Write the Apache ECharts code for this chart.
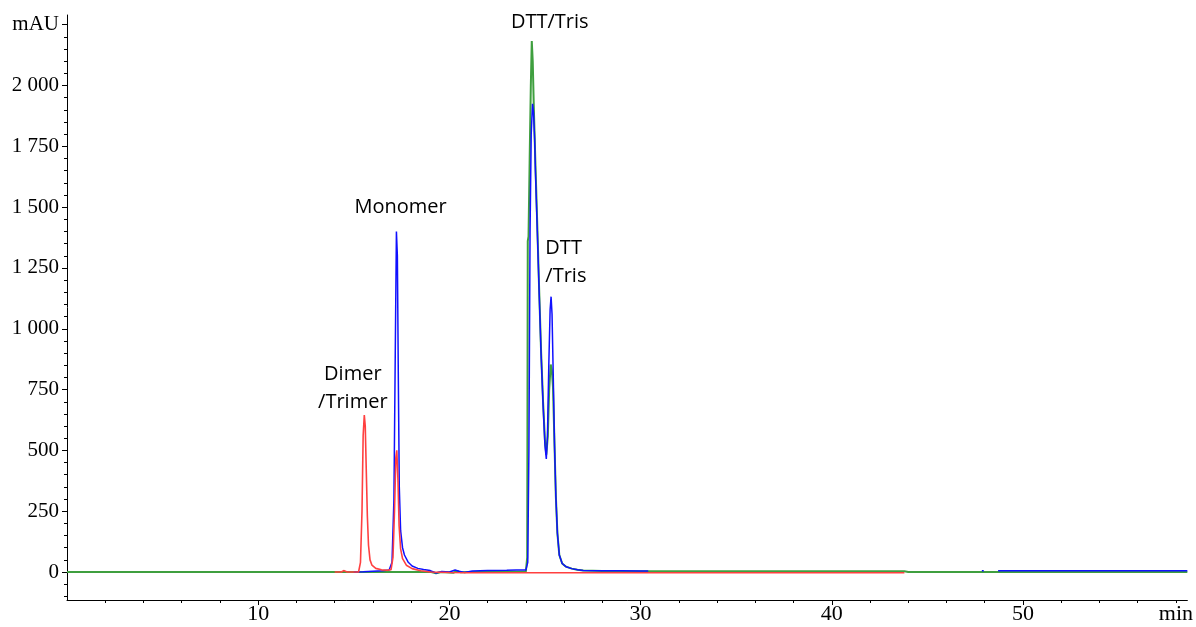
<!DOCTYPE html>
<html>
<head>
<meta charset="utf-8">
<script src="https://cdn.jsdelivr.net/npm/echarts@6/dist/echarts.min.js"></script>
<style>
html,body{margin:0;padding:0;background:#fff;}
#c{width:1196px;height:627px;}
</style>
</head>
<body>
<div id="c"></div>
<script>
// ---- axis ticks ----
const xMajorTicks = [10, 20, 30, 40, 50];
const xLabelTicks = [10, 20, 30, 40, 50, 58];
const xMinorTicks = [2,4,6,8,10,12,14,16,18,20,22,24,26,28,30,32,34,36,38,40,42,44,46,48,50,52,54,56,58];
const yMajorTicks = [0, 250, 500, 750, 1000, 1250, 1500, 1750, 2000, 2250];
const yMinorTicks = [-100,-50,0,50,100,150,200,250,300,350,400,450,500,550,600,650,700,750,800,850,900,950,1000,1050,1100,1150,1200,1250,1300,1350,1400,1450,1500,1550,1600,1650,1700,1750,1800,1850,1900,1950,2000,2050,2100,2150,2200,2250];
const xUnitLabel = 'min';
const yUnitLabel = 'mAU';

// ---- traces [time (min), signal (mAU)] ----
const redTrace = [
  [14.0,0],[14.35,0],[14.47,6],[14.55,2],[14.65,0],[15.25,0],[15.35,40],[15.43,250],[15.49,560],[15.55,645],
  [15.6,600],[15.65,430],[15.71,230],[15.77,110],[15.85,50],[15.95,28],[16.15,15],[16.45,9],[16.75,7],
  [16.95,10],[17.05,60],[17.13,250],[17.2,470],[17.25,500],[17.31,380],[17.37,190],[17.45,95],[17.55,55],
  [17.75,28],[18.05,14],[18.5,5],[19.0,0],[20.0,-2],[21.0,-3],[25.0,-3],[30.0,-3],[35.0,-3],[40.0,-3],[43.8,-3]
];
const blueTrace = [
  [15.0,0],[15.5,1],[16.0,3],[16.5,5],[16.85,8],[17.0,40],[17.1,300],[17.17,900],[17.23,1400],
  [17.28,1300],[17.33,800],[17.38,350],[17.45,170],[17.55,100],[17.65,70],[17.85,40],[18.05,25],[18.35,15],
  [18.65,10],[19.0,6],[19.3,-4],[19.6,2],[20.0,0],[20.3,8],[20.5,3],[20.8,-2],[21.2,4],[22.0,6],[23.0,7],
  [23.5,8],[24.0,8],[24.1,40],[24.16,500],[24.22,1400],[24.28,1800],[24.35,1925],[24.4,1890],[24.46,1780],
  [24.5,1650],[24.6,1400],[24.7,1140],[24.8,890],[24.9,690],[25.0,520],[25.07,465],[25.13,560],[25.2,850],
  [25.27,1080],[25.32,1132],[25.37,1060],[25.43,820],[25.5,520],[25.57,310],[25.65,160],[25.75,70],
  [25.9,35],[26.1,22],[26.4,14],[26.7,9],[27.0,6],[28.0,5],[29.0,5],[30.0,4],[30.4,4],null,
  [47.85,5],[47.95,5],null,[48.7,5],[52.0,5],[55.0,5],[58.6,5]
];
const greenTrace = [
  [0,0],[5,0],[10,0],[14,0],[18,0],[19.0,1],[19.3,-5],[19.6,0],[20.2,-3],[20.4,4],[20.6,-1],[21,0],
  [24.0,2],[24.07,60],[24.1,1360],[24.14,1380],[24.2,1700],[24.26,2000],[24.31,2183],[24.36,2100],
  [24.42,1900],[24.5,1680],[24.6,1420],[24.7,1150],[24.8,900],[24.9,700],[25.0,540],[25.07,482],
  [25.15,560],[25.22,750],[25.3,853],[25.36,830],[25.42,760],[25.5,520],[25.57,310],[25.65,160],
  [25.75,70],[25.9,35],[26.1,22],[26.4,14],[26.7,9],[27.0,6],[28.0,4],[35.0,3],[43.8,3],[44.0,0],
  [50.0,0],[58.6,0]
];

// ---- peak annotations [time, mAU, text] ----
const annotations = [
  [14.95, 757, 'Dimer\n/Trimer'],
  [17.45, 1501, 'Monomer'],
  [25.25, 2261, 'DTT/Tris'],
  [25.02, 1275, 'DTT\n/Tris']
];
// text alignment of each annotation (style, by index)
const annotationAlign = ['center', 'center', 'center', 'left'];

const X_MIN = 0, X_MAX = 58.6, Y_MIN = -115, Y_MAX = 2290;
const serif = '"Liberation Serif", "DejaVu Serif", serif';
const sans = '"Open Sans", "Noto Sans", sans-serif';

function fmtY(v) {
  if (v === 2250) return yUnitLabel;
  const s = String(v);
  return s.length > 3 ? s.slice(0, s.length - 3) + ' ' + s.slice(-3) : s;
}

const chart = echarts.init(document.getElementById('c'), null, {renderer: 'canvas'});
chart.setOption({
  animation: false,
  backgroundColor: '#ffffff',
  grid: {left: 67, right: 0, top: 15, bottom: 27, containLabel: false},
  xAxis: [
    {
      type: 'value', min: X_MIN, max: X_MAX, position: 'bottom',
      axisLine: {show: true, onZero: false, lineStyle: {color: '#000', width: 1}},
      axisTick: {show: true, length: 5, customValues: xMajorTicks, lineStyle: {color: '#000'}},
      axisLabel: {
        show: true, customValues: xLabelTicks, margin: 3, color: '#000',
        fontFamily: serif, fontSize: 22,
        formatter: v => (v === 58 ? xUnitLabel : String(v))
      },
      splitLine: {show: false}
    },
    {
      type: 'value', min: X_MIN, max: X_MAX, position: 'bottom',
      axisLine: {show: false, onZero: false},
      axisTick: {show: true, length: 3, customValues: xMinorTicks, lineStyle: {color: '#000'}},
      axisLabel: {show: false},
      splitLine: {show: false}
    }
  ],
  yAxis: [
    {
      type: 'value', min: Y_MIN, max: Y_MAX, position: 'left',
      axisLine: {show: true, onZero: false, lineStyle: {color: '#000', width: 1}},
      axisTick: {show: true, length: 5, customValues: yMajorTicks, lineStyle: {color: '#000'}},
      axisLabel: {
        show: true, customValues: yMajorTicks, margin: 8, color: '#000',
        fontFamily: serif, fontSize: 21, formatter: fmtY
      },
      splitLine: {show: false}
    },
    {
      type: 'value', min: Y_MIN, max: Y_MAX, position: 'left',
      axisLine: {show: false, onZero: false},
      axisTick: {show: true, length: 3, customValues: yMinorTicks, lineStyle: {color: '#000'}},
      axisLabel: {show: false},
      splitLine: {show: false}
    }
  ],
  series: [
    {
      type: 'line', name: 'green', data: greenTrace, xAxisIndex: 0, yAxisIndex: 0,
      showSymbol: false, symbol: 'none', connectNulls: false, z: 2,
      lineStyle: {color: '#3f9f3f', width: 2}
    },
    {
      type: 'line', name: 'blue', data: blueTrace, xAxisIndex: 0, yAxisIndex: 0,
      showSymbol: false, symbol: 'none', connectNulls: false, z: 3,
      lineStyle: {color: '#1010ff', width: 1.5}
    },
    {
      type: 'line', name: 'red', data: redTrace, xAxisIndex: 0, yAxisIndex: 0,
      showSymbol: false, symbol: 'none', connectNulls: false, z: 4,
      lineStyle: {color: '#ff4040', width: 1.6}
    },
    {
      type: 'scatter', name: 'labels', xAxisIndex: 0, yAxisIndex: 0, z: 5,
      data: annotations.map((a, i) => ({
        value: [a[0], a[1]], name: a[2],
        label: {align: annotationAlign[i]}
      })),
      symbol: 'circle', symbolSize: 2, itemStyle: {color: 'rgba(0,0,0,0)'},
      silent: true,
      label: {
        show: true, position: 'inside', formatter: p => p.name,
        fontFamily: sans, fontSize: 20, color: '#000', opacity: 1,
        textBorderWidth: 0, lineHeight: 28, align: 'center'
      }
    }
  ]
});
</script>
</body>
</html>
